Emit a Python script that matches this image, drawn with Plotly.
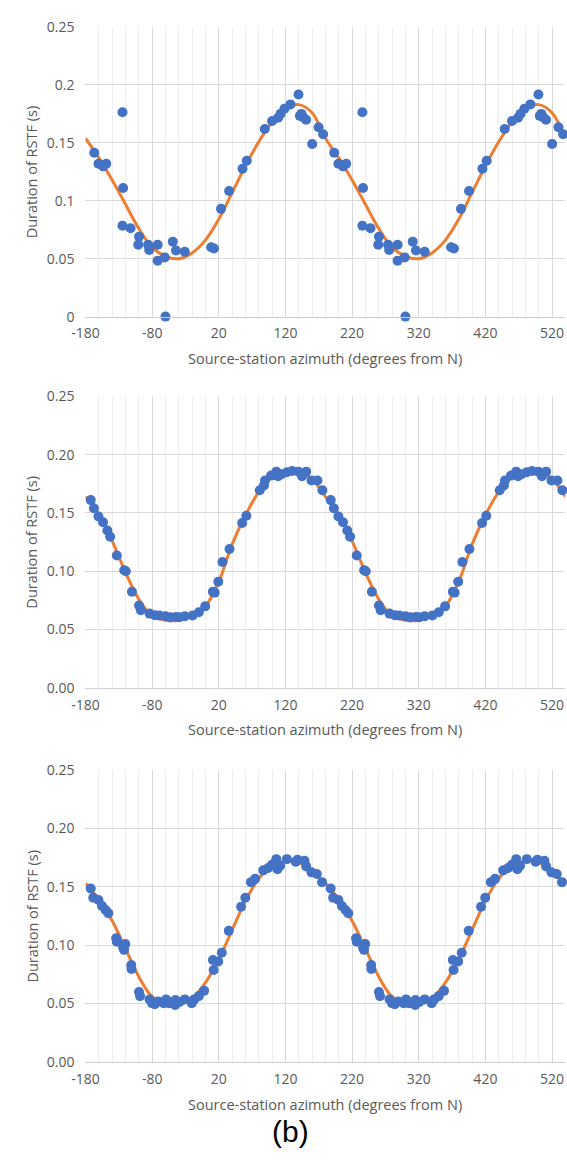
import plotly.graph_objects as go

# Measured RSTF durations against source-station azimuth (one turn, degrees from N)
az_top = [-166.8, -160.5, -153.6, -148.8, -124.5, -123.5, -124.5, -112.4, -99.7, -100.8,
          -86.0, -84.4, -71.7, -71.7, -61.1, -60.0, -49.0, -44.2, -31.0, 8.6,
          12.8, 23.4, 35.5, 55.6, 62.0, 89.0, 100.0, 109.0, 112.7, 118.5,
          127.5, 139.6, 141.7, 144.0, 147.0, 151.0, 160.2, 169.7, 176.6]
dur_top = [0.1415, 0.132, 0.1297, 0.132, 0.1764, 0.111, 0.0785, 0.0763, 0.069, 0.062,
           0.062, 0.0576, 0.062, 0.0483, 0.0511, 0.0, 0.0647, 0.0571, 0.056, 0.0599,
           0.0588, 0.093, 0.1085, 0.1277, 0.1345, 0.162, 0.1688, 0.1716, 0.175, 0.1795,
           0.1832, 0.1918, 0.1733, 0.175, 0.172, 0.170, 0.149, 0.1634, 0.1574]

az_mid = [-172.1, -167.3, -160.5, -153.6, -147.2, -143.0, -133.0, -121.9, -119.5, -110.3,
          -99.7, -97.0, -83.8, -75.9, -69.0, -60.0, -52.2, -44.2, -38.9, -31.0,
          -19.4, -9.9, -0.4, 11.2, 13.9, 19.2, 25.5, 36.1, 55.1, 61.4,
          81.5, 87.8, 89.4, 98.4, 106.3, 109.0, 114.3, 122.2, 130.1, 139.6,
          144.9, 151.2, 159.2, 168.1, 175.5]
dur_mid = [0.161, 0.154, 0.147, 0.142, 0.135, 0.1295, 0.1135, 0.1008, 0.100, 0.0825,
           0.0707, 0.0665, 0.0637, 0.0623, 0.062, 0.0614, 0.0606, 0.0608, 0.0606, 0.0614,
           0.062, 0.0648, 0.0699, 0.0825, 0.0817, 0.091, 0.108, 0.119, 0.1413, 0.1475,
           0.1694, 0.1736, 0.1778, 0.182, 0.1854, 0.1815, 0.1831, 0.1848, 0.186, 0.1854,
           0.1815, 0.1854, 0.1778, 0.1778, 0.1694]

az_bot = [-172.1, -168.4, -160.5, -155.2, -149.9, -145.7, -134.0, -133.0, -123.5, -120.3,
          -122.0, -111.3, -111.0, -99.7, -98.1, -83.8, -80.1, -75.9, -70.6, -62.6,
          -59.0, -54.8, -45.3, -45.0, -38.9, -31.0, -20.5, -16.8, -9.9, -2.0,
          11.2, 12.3, 19.2, 24.5, 35.0, 53.5, 59.8, 68.3, 74.6, 86.8,
          94.2, 100.0, 106.3, 108.0, 112.0, 122.2, 135.4, 138.1, 148.6, 151.2,
          159.2, 167.1, 175.0]
dur_bot = [0.1486, 0.1407, 0.1387, 0.1336, 0.1302, 0.1274, 0.106, 0.103, 0.0978, 0.101,
           0.096, 0.083, 0.0796, 0.060, 0.0564, 0.0536, 0.0503, 0.0494, 0.0517, 0.0503,
           0.0536, 0.0503, 0.0489, 0.053, 0.0514, 0.0536, 0.0503, 0.0536, 0.0564, 0.0609,
           0.0874, 0.0788, 0.086, 0.0936, 0.1123, 0.133, 0.1407, 0.154, 0.1568, 0.1641,
           0.1661, 0.169, 0.1737, 0.165, 0.168, 0.1737, 0.1715, 0.1732, 0.1723, 0.1675,
           0.1624, 0.161, 0.154]

# Fitted duration curves, one turn of azimuth
fit_az = [-180, -160, -140, -120, -100, -80, -60, -40, -20, 0,
          20, 40, 60, 80, 100, 120, 140, 160, 180]
fit_top = [0.154, 0.137, 0.118, 0.097, 0.076, 0.060, 0.052, 0.050, 0.055, 0.066,
           0.084, 0.107, 0.130, 0.151, 0.168, 0.180, 0.183, 0.176, 0.154]
fit_mid = [0.164, 0.149, 0.126, 0.099, 0.076, 0.062, 0.058, 0.058, 0.062, 0.070,
           0.091, 0.123, 0.148, 0.168, 0.181, 0.186, 0.185, 0.179, 0.164]
fit_bot = [0.153, 0.139, 0.121, 0.097, 0.073, 0.056, 0.051, 0.052, 0.055, 0.068,
           0.088, 0.113, 0.138, 0.157, 0.168, 0.172, 0.171, 0.163, 0.153]

x_ticks = [-180, -80, 20, 120, 220, 320, 420, 520]
TURN = 360
X_RANGE = [-180, 540]

W, H = 567, 1160
BLUE = "#4472C4"
ORANGE = "#ED7D31"
GREY_TXT = "#595959"
FONT = "Open Sans"
TICK_SIZE = 14
TITLE_SIZE = 14.5


def two_turns(az, val):
    """Repeat one turn of azimuth so the axis shows two full cycles."""
    xs = list(az) + [a + TURN for a in az]
    ys = list(val) + list(val)
    keep = [(x, y) for x, y in zip(xs, ys) if X_RANGE[0] <= x <= X_RANGE[1]]
    return [k[0] for k in keep], [k[1] for k in keep]


def fit_two_turns(az, val):
    xs = list(az) + [a + TURN for a in az[1:]]
    ys = list(val) + list(val[1:])
    return xs, ys


# plot areas in pixels: (top, bottom)
panels = [
    (az_top, dur_top, fit_top, 17.3, 311.7, None),
    (az_mid, dur_mid, fit_mid, 392.7, 689.2, ".2f"),
    (az_bot, dur_bot, fit_bot, 772.7, 1069.5, ".2f"),
]
x_left, x_right = 73.3, 565.3
x_title_y = [354, 731, 1113]

fig = go.Figure()
layout = dict(
    width=W, height=H,
    margin=dict(l=0, r=0, t=0, b=0),
    paper_bgcolor="white", plot_bgcolor="white",
    showlegend=False,
    font=dict(family=FONT, size=TICK_SIZE, color=GREY_TXT),
)
annotations = []

for i, (az, dur, fit, top_px, bot_px, yfmt) in enumerate(panels):
    n = "" if i == 0 else str(i + 1)
    xa, ya = "x" + n, "y" + n

    fx, fy = fit_two_turns(fit_az, fit)
    fig.add_trace(go.Scatter(x=fx, y=fy, mode="lines", xaxis=xa, yaxis=ya,
                             line=dict(color=ORANGE, width=3, shape="spline", smoothing=1.0),
                             hoverinfo="skip"))
    px_, py_ = two_turns(az, dur)
    fig.add_trace(go.Scatter(x=px_, y=py_, mode="markers", xaxis=xa, yaxis=ya,
                             marker=dict(color=BLUE, size=10, line=dict(width=0)),
                             cliponaxis=False))

    y0 = 1 - bot_px / H
    y1 = 1 - top_px / H
    layout["xaxis" + n] = dict(
        domain=[x_left / W, x_right / W], range=X_RANGE, anchor=ya,
        tickmode="array", tickvals=x_ticks, ticktext=[str(t) for t in x_ticks],
        showgrid=True, gridcolor="#d9d9d9", gridwidth=1,
        minor=dict(tick0=-180, dtick=20, showgrid=True, gridcolor="#eeeeee", gridwidth=1),
        showline=True, linecolor="#cfcfcf", linewidth=1,
        zeroline=False, ticks="", ticklabelstandoff=4,
        tickfont=dict(family=FONT, size=TICK_SIZE, color=GREY_TXT),
    )
    yax = dict(
        domain=[y0, y1], range=[0, 0.25], anchor=xa,
        tick0=0, dtick=0.05,
        showgrid=True, gridcolor="#d9d9d9", gridwidth=1,
        showline=False, zeroline=False, ticks="", ticklabelstandoff=10,
        tickfont=dict(family=FONT, size=TICK_SIZE, color=GREY_TXT),
    )
    if yfmt:
        yax["tickformat"] = yfmt
    layout["yaxis" + n] = yax

    annotations.append(dict(
        text="Source-station azimuth (degrees from N)", xref="paper", yref="paper",
        x=(x_left + x_right) / 2 / W, y=1 - x_title_y[i] / H,
        xanchor="center", yanchor="middle", showarrow=False,
        font=dict(family=FONT, size=TITLE_SIZE, color=GREY_TXT)))
    annotations.append(dict(
        text="Duration of RSTF (s)", xref="paper", yref="paper",
        x=18 / W, y=1 - (top_px + bot_px) / 2 / H, textangle=-90,
        xanchor="center", yanchor="middle", showarrow=False,
        font=dict(family=FONT, size=TITLE_SIZE, color=GREY_TXT)))

annotations.append(dict(
    text="(b)", xref="paper", yref="paper", x=283.5 / W, y=1 - 1140 / H,
    xanchor="center", yanchor="middle", showarrow=False,
    font=dict(family="Liberation Sans", size=30, color="black")))

layout["annotations"] = annotations
fig.update_layout(**layout)
fig.write_html("out.html")
